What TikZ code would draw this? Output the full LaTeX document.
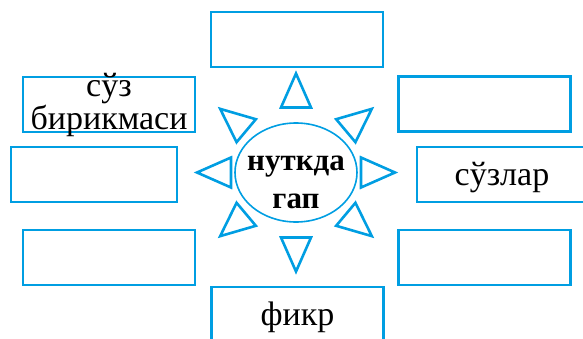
\documentclass[tikz,border=0pt]{standalone}
\usepackage{fontspec}
\setmainfont{Liberation Serif}
\definecolor{skyblue}{RGB}{0,158,226}

\begin{document}
\begin{tikzpicture}[x=1pt,y=1pt,
    wordbox/.style={draw=skyblue,line width=2.2pt,rectangle,
        minimum width=172pt,minimum height=55pt,inner sep=0pt,
        font=\fontsize{34}{27}\selectfont,text height=24pt,text depth=3pt},
    core/.style={inner sep=0pt,align=center,text height=72pt,text depth=0pt,
        font=\bfseries\fontsize{31}{38}\selectfont},
    ray/.style={draw=skyblue,line width=2.6pt,line join=miter}]
            \clip (0,0) rectangle (583,338);
            \node[wordbox] (top) at (297,298.5) {};
            \node[wordbox,align=center,text height=52pt] (upleft) at (109,233.5) {сўз\\бирикмаси};
            \node[wordbox] (upright) at (484.5,234) {};
            \node[wordbox,minimum width=166pt] (midleft) at (94,163.5) {};
            \node[wordbox,minimum width=170pt] (midright) at (502,163.5) {сўзлар};
            \node[wordbox] (lowleft) at (109,80.5) {};
            \node[wordbox] (lowright) at (484.5,80.5) {};
            \node[wordbox] (bottom) at (297.5,23.5) {фикр};
            \node[core] (centre) at (296,165.5) {нуткда\\гап};
            \draw[skyblue,line width=1.6pt] (centre.center) ellipse [x radius=61, y radius=49.5];
            \foreach \a in {0,40,90,140,180,220,270,320} {
                \draw[ray,shift={(centre.center)},rotate=\a] (99,0) -- (65,15) -- (65,-15) -- cycle;
            }
        \end{tikzpicture}
\end{document}
